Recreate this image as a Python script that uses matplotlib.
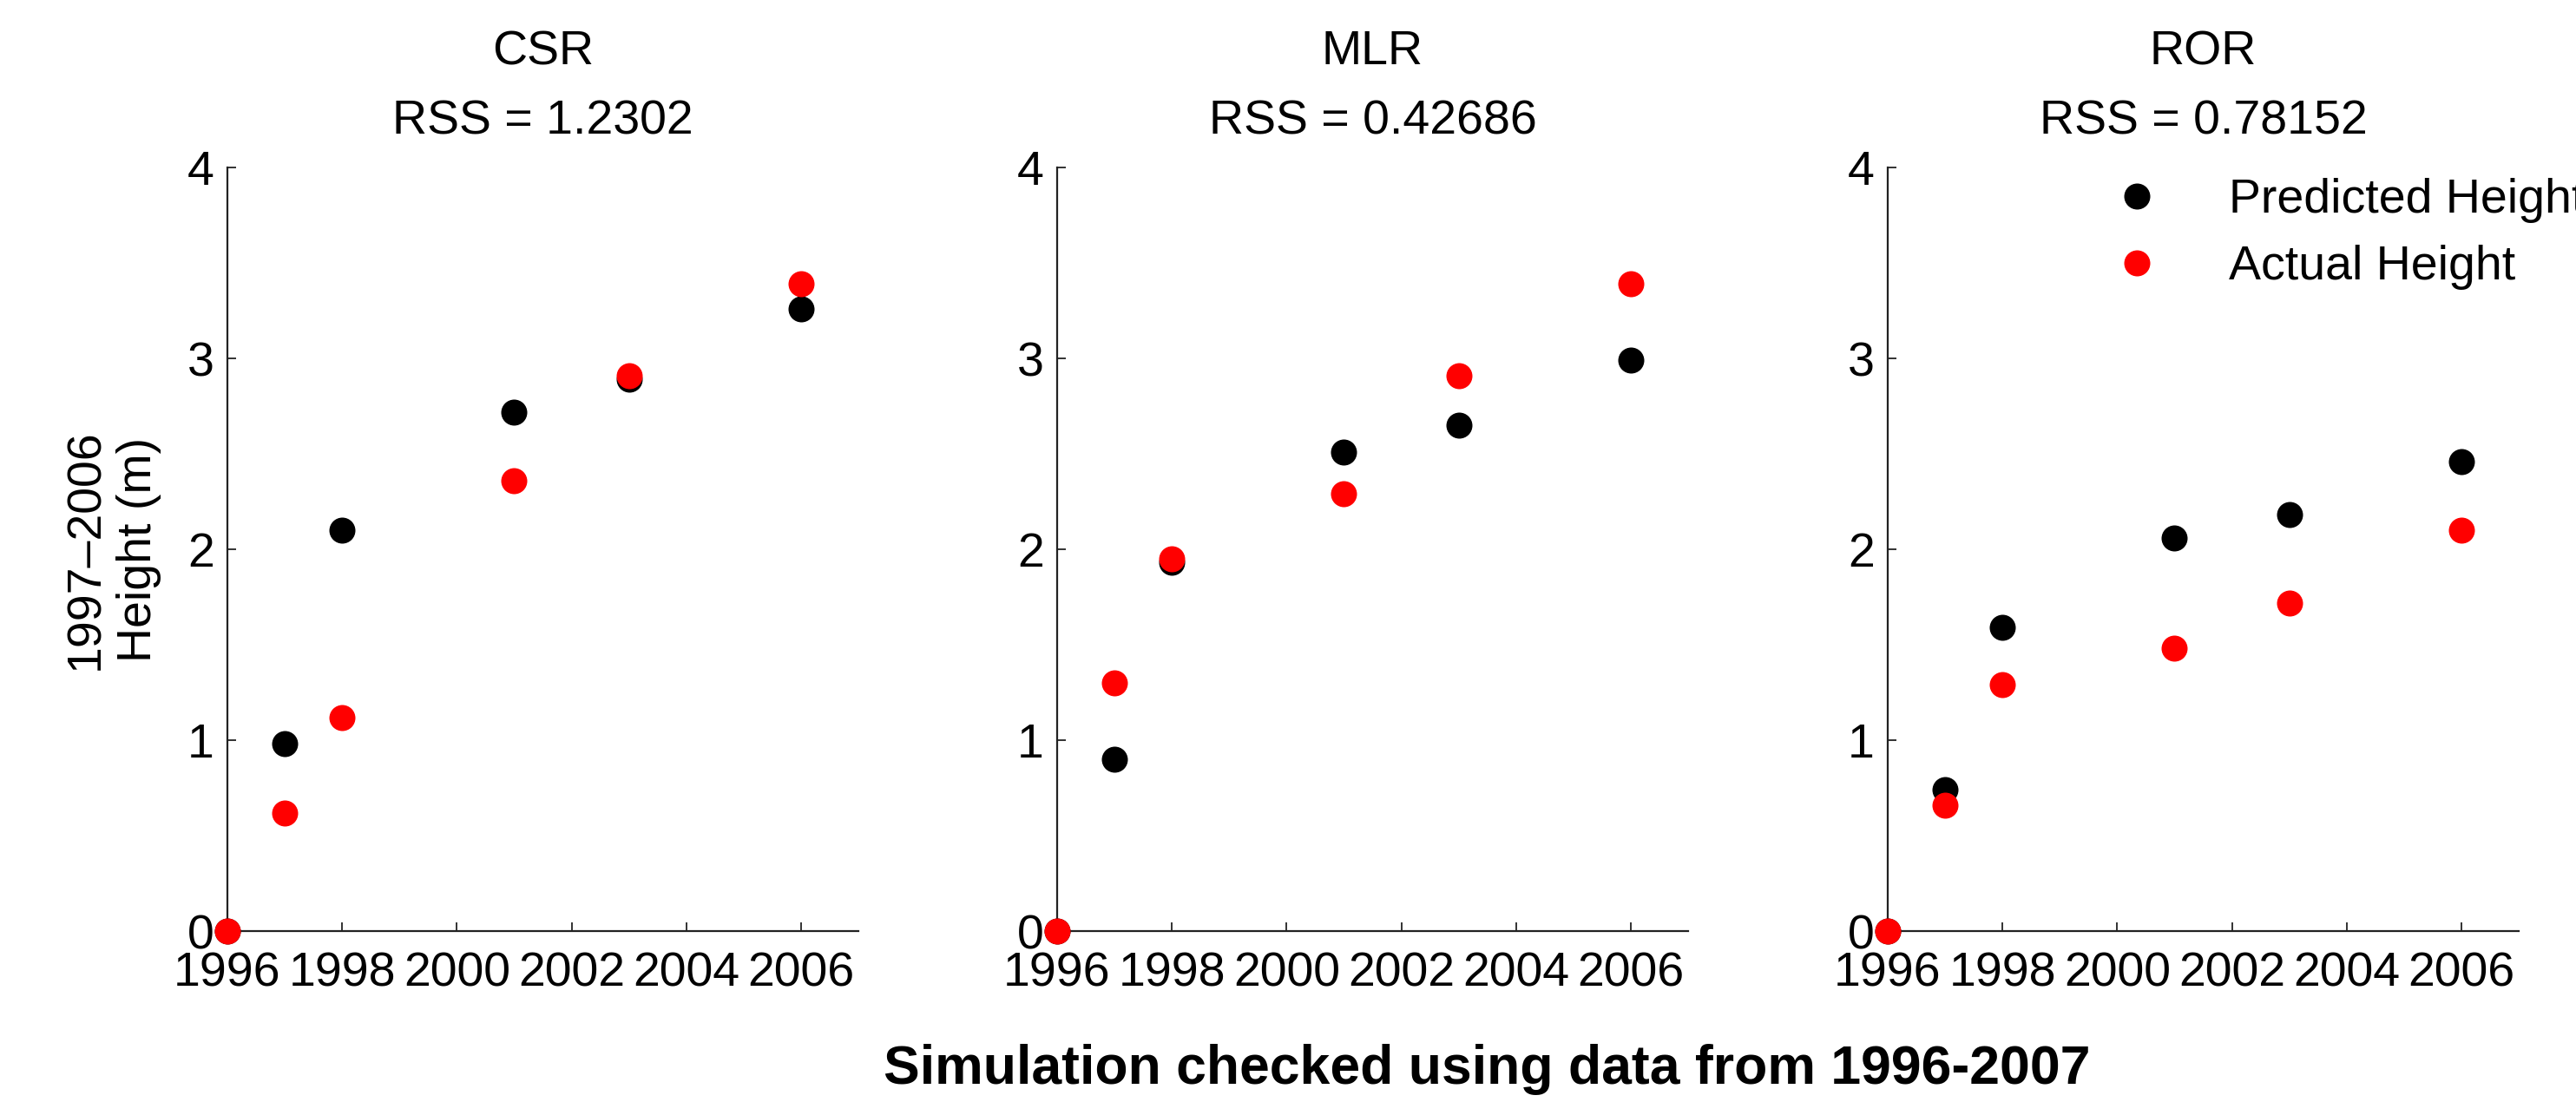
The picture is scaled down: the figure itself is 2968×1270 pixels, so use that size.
import matplotlib
matplotlib.use("Agg")
import matplotlib.pyplot as plt

plt.rcParams['font.family'] = ['Liberation Sans', 'DejaVu Sans']

# data
years = [1996, 1997, 1998, 2001, 2003, 2006]

csr_pred = [0, 0.98, 2.10, 2.72, 2.89, 3.26]
csr_act = [0, 0.62, 1.12, 2.36, 2.91, 3.39]
mlr_pred = [0, 0.90, 1.93, 2.51, 2.65, 2.99]
mlr_act = [0, 1.30, 1.95, 2.29, 2.91, 3.39]
ror_pred = [0, 0.74, 1.59, 2.06, 2.18, 2.46]
ror_act = [0, 0.66, 1.29, 1.48, 1.72, 2.10]

methods = ['CSR', 'MLR', 'ROR']
rss = ['1.2302', '0.42686', '0.78152']
predicted = [csr_pred, mlr_pred, ror_pred]
actual = [csr_act, mlr_act, ror_act]

xticks = [1996, 1998, 2000, 2002, 2004, 2006]
yticks = [0, 1, 2, 3, 4]

W, H = 2968, 1270
fig = plt.figure(figsize=(W / 100, H / 100), dpi=100)

lefts = [262, 1218, 2175]
ax_w = 727
ax_top, ax_bot = 193, 1073
fs = 40

for i in range(3):
    ax = fig.add_axes([lefts[i] / W, (H - ax_bot) / H, ax_w / W, (ax_bot - ax_top) / H])
    ax.plot(years, predicted[i], 'o', color='black', ms=21.6, mew=0,
            clip_on=False, label='Predicted Height', zorder=3)
    ax.plot(years, actual[i], 'o', color='#ff0000', ms=21.6, mew=0,
            clip_on=False, label='Actual Height', zorder=4)
    ax.set_xlim(1996, 2007)
    ax.set_ylim(0, 4)
    ax.set_xticks(xticks)
    ax.set_yticks(yticks)
    ax.tick_params(direction='in', length=7, width=1.3, labelsize=fs, color='#222222')
    ax.tick_params(axis='x', pad=17)
    ax.tick_params(axis='y', pad=11)
    for s in ['top', 'right']:
        ax.spines[s].set_visible(False)
    for s in ['left', 'bottom']:
        ax.spines[s].set_linewidth(1.6)
        ax.spines[s].set_color('#222222')
    ax.set_title(methods[i] + '\nRSS = ' + rss[i], fontsize=fs, pad=28, linespacing=1.7)

    if i == 0:
        ax.set_ylabel('1997\u20132006\nHeight (m)', fontsize=fs, va='center')
        ax.yaxis.set_label_coords(-0.182, 0.5)
    if i == 2:
        ax.legend(loc='upper left', bbox_to_anchor=(0.318, 0.986), frameon=False,
                  fontsize=fs, handlelength=2, handletextpad=0.92, borderpad=0,
                  labelspacing=0.45, borderaxespad=0, numpoints=1)

fig.text(1713 / W, (H - 1232) / H, 'Simulation checked using data from 1996-2007',
         ha='center', va='center', fontsize=45, fontweight='bold')

fig.savefig('out.png', dpi=100)
